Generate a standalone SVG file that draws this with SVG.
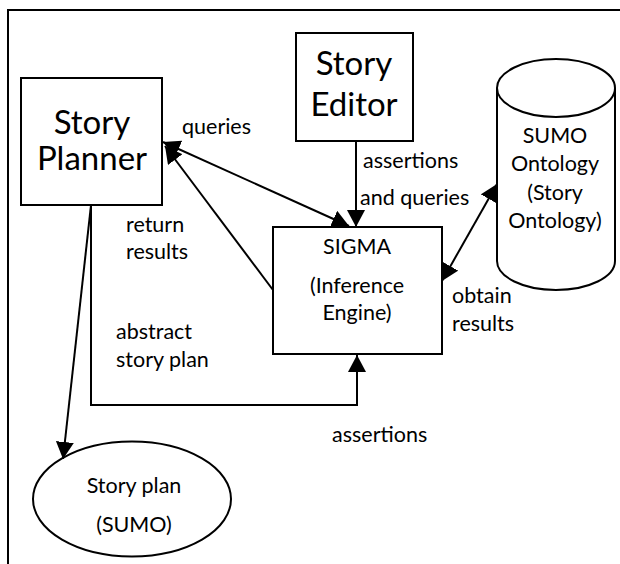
<svg xmlns="http://www.w3.org/2000/svg" width="620" height="564" viewBox="0 0 620 564">
<style>
.box{fill:#fff;stroke:#000;stroke-width:2}
.ln{fill:none;stroke:#000;stroke-width:2}
text{font-family:Lato,"Liberation Sans",sans-serif;fill:#000}
.big{font-size:33px;text-anchor:middle}
.mid{font-size:21.5px;text-anchor:middle}
.lbl{font-size:21.5px}
</style>
<defs>
<marker id="ah" viewBox="0 0 17 18" refX="17" refY="9" markerWidth="17" markerHeight="18" markerUnits="userSpaceOnUse" orient="auto-start-reverse">
<path d="M0,0 L17,9 L0,18 z" fill="#000"/>
</marker>
</defs>
<rect width="620" height="564" fill="#fff"/>
<path class="ln" d="M8,564 V10 H620"/>
<g id="story-planner">
<rect class="box" x="21" y="78" width="141" height="127"/>
<text class="big" x="92" y="134">Story</text>
<text class="big" x="92" y="170">Planner</text>
</g>
<g id="story-editor">
<rect class="box" x="296" y="33" width="117" height="108"/>
<text class="big" x="354" y="75">Story</text>
<text class="big" x="354" y="116">Editor</text>
</g>
<g id="sumo-ontology">
<path class="box" d="M497,88 V261 A59,29 0 0 0 615,261 V88"/>
<ellipse class="box" cx="556" cy="88" rx="59" ry="29"/>
<text class="mid" x="555" y="143">SUMO</text>
<text class="mid" x="555" y="171">Ontology</text>
<text class="mid" x="555" y="200">(Story</text>
<text class="mid" x="555" y="228">Ontology)</text>
</g>
<g id="sigma">
<rect class="box" x="273" y="227" width="169" height="127"/>
<text class="mid" x="357" y="254">SIGMA</text>
<text class="mid" x="357" y="293">(Inference</text>
<text class="mid" x="357" y="320">Engine)</text>
</g>
<g id="story-plan">
<ellipse class="box" cx="132" cy="499" rx="99" ry="57.5"/>
<text class="mid" x="134" y="493">Story plan</text>
<text class="mid" x="134" y="532">(SUMO)</text>
</g>
<g id="connectors">
<line class="ln" x1="163" y1="142" x2="349" y2="226" marker-start="url(#ah)" marker-end="url(#ah)"/>
<line class="ln" x1="273" y1="290" x2="165" y2="146" marker-end="url(#ah)"/>
<line class="ln" x1="356" y1="141" x2="356" y2="227" marker-end="url(#ah)"/>
<line class="ln" x1="442" y1="281" x2="497" y2="184" marker-start="url(#ah)" marker-end="url(#ah)"/>
<line class="ln" x1="91" y1="205" x2="63" y2="459" marker-end="url(#ah)"/>
<polyline class="ln" points="91,205 91,405 357,405 357,355" marker-end="url(#ah)"/>
</g>
<g id="labels">
<text class="lbl" x="182" y="134">queries</text>
<text class="lbl" x="363" y="168">assertions</text>
<text class="lbl" x="360" y="205">and queries</text>
<text class="lbl" x="126" y="232">return</text>
<text class="lbl" x="126" y="259">results</text>
<text class="lbl" x="116" y="339">abstract</text>
<text class="lbl" x="116" y="367">story plan</text>
<text class="lbl" x="452" y="303">obtain</text>
<text class="lbl" x="452" y="331">results</text>
<text class="lbl" x="332" y="442">assertions</text>
</g>
</svg>
